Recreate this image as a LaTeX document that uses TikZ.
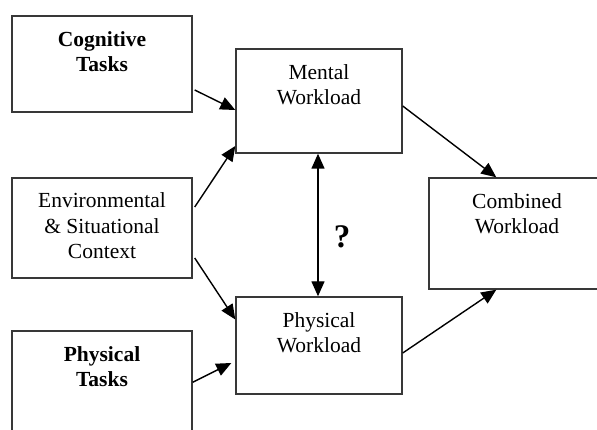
\documentclass[tikz,border=0pt]{standalone}
\usepackage{fontspec}
\setmainfont{Liberation Serif}
\usetikzlibrary{arrows.meta}
\begin{document}
\begin{tikzpicture}[x=1pt,y=-1pt,
  box/.style={draw=black!78, line width=1.4pt, rectangle, inner sep=0pt},
  txt/.style={align=center, inner sep=0pt, font=\fontsize{21.5}{25.5}\selectfont},
  btxt/.style={txt, font=\fontsize{21.5}{25.5}\selectfont\bfseries},
  arr/.style={draw=black, line width=1.4pt, -{Triangle[length=15pt,width=13pt]}},
  darr/.style={draw=black, line width=1.4pt, {Triangle[length=15pt,width=13pt]}-{Triangle[length=15pt,width=13pt]}}]
  \path[use as bounding box, clip] (0,0) rectangle (597,430);
  \fill[white] (0,0) rectangle (597,430);

  % boxes
  \node[box, minimum width=180pt, minimum height=96pt]  (cog)  at (102,64)   {};
  \node[box, minimum width=180pt, minimum height=100pt] (env)  at (102,228)  {};
  \node[box, minimum width=180pt, minimum height=130pt] (phyt) at (102,396)  {};
  \node[box, minimum width=166pt, minimum height=104pt] (mw)   at (319,101)  {};
  \node[box, minimum width=166pt, minimum height=97pt]  (pw)   at (319,345.5){};
  \node[box, minimum width=176pt, minimum height=111pt] (comb) at (517,233.5){};

  % box texts
  \node[btxt, anchor=north] (cogt)  at ([yshift=-16pt]cog.north)  {Cognitive\\Tasks};
  \node[txt] (envt) at ([yshift=2pt]env.center) {Environmental\\\& Situational\\Context};
  \node[btxt, anchor=north] (phytt) at ([yshift=-16pt]phyt.north) {Physical\\Tasks};
  \node[txt, anchor=north] (mwt)   at ([yshift=-16pt]mw.north)   {Mental\\Workload};
  \node[txt, anchor=north] (pwt)   at ([yshift=-16pt]pw.north)   {Physical\\Workload};
  \node[txt, anchor=north] (combt) at ([yshift=-16pt]comb.north) {Combined\\Workload};

  % connectors
  \draw[arr] ([xshift=2pt,yshift=-26pt]cog.east) -- ([yshift=-9pt]mw.west);
  \draw[arr] ([xshift=2pt,yshift=21pt]env.east) -- ([yshift=-45pt]mw.west);
  \draw[arr] ([xshift=2pt,yshift=-30pt]env.east) -- ([yshift=26pt]pw.west);
  \draw[arr] ([yshift=-52pt]phyt.north east) -- ([xshift=-4pt,yshift=-17.5pt]pw.west);
  \draw[darr] ([xshift=-1pt]mw.south) -- ([xshift=-1pt]pw.north);
  \draw[arr] ([yshift=-5pt]mw.east) -- ([xshift=68pt]comb.north west);
  \draw[arr] ([yshift=-7.5pt]pw.east) -- ([xshift=68pt]comb.south west);

  \node[font=\fontsize{33}{33}\selectfont\bfseries, inner sep=0pt] (q) at (342,237) {?};
\end{tikzpicture}
\end{document}
